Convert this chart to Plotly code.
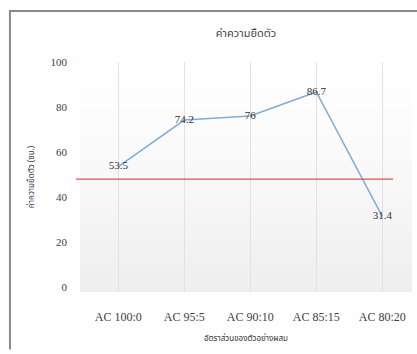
import plotly.graph_objects as go

# Elongation by AC blend ratio
categories = ["AC 100:0", "AC 95:5", "AC 90:10", "AC 85:15", "AC 80:20"]
elongation = [53.5, 74.2, 76, 86.7, 31.4]
spec_limit = 48
y_ticks = [0, 20, 40, 60, 80, 100]

title_text = "ค่าความยืดตัว"
x_title = "อัตราส่วนของตัวอย่างผสม"
y_title = "ค่าความยืดตัว (ซม.)"

serif = "'Liberation Serif', 'Times New Roman', serif"
thai = "'Noto Sans Thai', Tahoma, sans-serif"

fig = go.Figure()

fig.add_trace(go.Scatter(
    x=list(range(len(categories))),
    y=elongation,
    mode="lines+text",
    line=dict(color="#82acd6", width=1.5),
    text=[f"{v:g}" for v in elongation],
    textposition="middle center",
    textfont=dict(family=serif, size=11, color="#333333"),
    showlegend=False,
    cliponaxis=False,
))

shapes = []
# soft vertical gradient behind the plot area
n = 24
for i in range(n):
    g = int(255 - 16 * (i / (n - 1)) ** 1.3)
    shapes.append(dict(
        type="rect", xref="x domain", yref="y domain",
        x0=0, x1=1, y0=1 - (i + 1) / n, y1=1 - i / n,
        fillcolor=f"rgb({g},{g},{g})", line=dict(width=0), layer="below",
    ))
# specification line
shapes.append(dict(
    type="line", xref="x domain", yref="y",
    x0=-0.012, x1=0.943, y0=spec_limit, y1=spec_limit,
    line=dict(color="#d9534f", width=1.3),
))
# chart frame: top edge and left edge as one open path
shapes.append(dict(type="path", xref="paper", yref="paper",
                   path="M -0.211,-0.25 L -0.211,1.222 L 1.015,1.222",
                   line=dict(color="#8a8a8a", width=2)))

fig.update_layout(
    width=417, height=354,
    margin=dict(l=80, r=5, t=62, b=62, autoexpand=False),
    paper_bgcolor="white",
    plot_bgcolor="rgba(0,0,0,0)",
    shapes=shapes,
    title=dict(text=title_text, x=0.5, xref="paper", xanchor="center",
               y=1 - 33 / 354, yanchor="middle",
               font=dict(family=thai, size=11, color="#444444")),
    xaxis=dict(
        tickvals=list(range(len(categories))), ticktext=categories,
        range=[-0.58, 4.45], automargin=False,
        showgrid=True, gridcolor="#e2e2e2", gridwidth=1,
        zeroline=False, showline=False, ticks="",
        ticklabelstandoff=16,
        tickfont=dict(family=serif, size=12, color="#404040"),
        title=dict(text=x_title, standoff=12,
                   font=dict(family=thai, size=8, color="#333333")),
    ),
    yaxis=dict(
        tickvals=y_ticks, range=[-2.2, 100], automargin=False,
        showgrid=False, zeroline=False, showline=False, ticks="",
        ticklabelstandoff=12,
        tickfont=dict(family=serif, size=11, color="#404040"),
        title=dict(text=y_title, standoff=14,
                   font=dict(family=thai, size=8, color="#333333")),
    ),
)

fig.write_html("out.html", config={"displayModeBar": False})
